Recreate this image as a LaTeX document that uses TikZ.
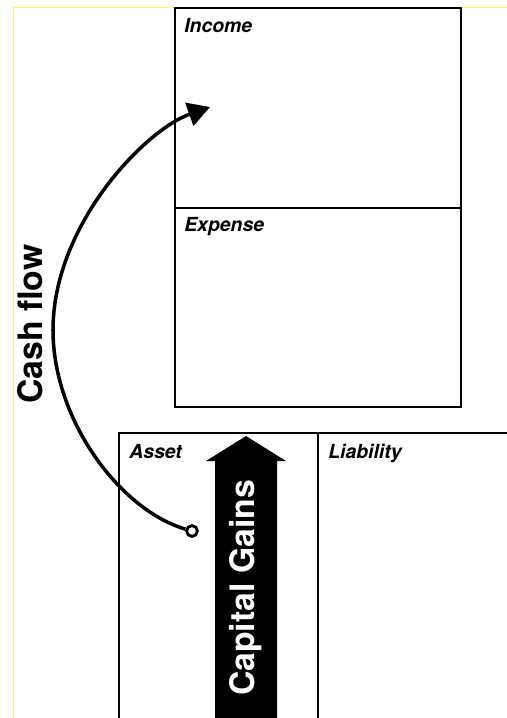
\documentclass[tikz,border=0pt]{standalone}
\usepackage{fontspec}
\setmainfont{TeX Gyre Heros}
\usetikzlibrary{arrows.meta}

\begin{document}
\begin{tikzpicture}[x=0.025cm, y=-0.025cm]

      \tikzset{panel/.style={draw, line width=1.8pt},
               tag/.style={anchor=base west, inner sep=0pt, font=\fontsize{13.8}{16}\selectfont\bfseries\itshape},
               big/.style={rotate=90, inner sep=0pt, font=\fontsize{24}{28}\selectfont\bfseries}}
      \useasboundingbox (0,0) rectangle (507,718);
%% Frame
      	\draw[yellow!60, line width=0.7pt] (13,718) -- (13,7) -- (507,7);
%% Panels
      	\draw[panel] (175,8) rectangle (461,208);
      	\draw[panel] (175,208) rectangle (461,407);
      	\draw[panel] (119,760) -- (119,433) -- (540,433);
      	\draw[panel] (318,433) -- (318,760);
      	\node[tag] (income) at (184,32) {Income};
      	\node[tag] (expense) at (184,231) {Expense};
      	\node[tag] (asset) at (129,458) {Asset};
      	\node[tag] (liability) at (328,458) {Liability};
%% Capital gains arrow
      	\fill (215,760) -- (215,461) -- (206,461) -- (246,436) -- (286,461) -- (277,461) -- (277,760) -- cycle;
      	\node[big, text=white] (gains) at (246,588) {Capital Gains};
%% Cash flow
      	\node[draw, circle, line width=2pt, fill=white, inner sep=0pt, minimum size=0.27cm] (cfstart) at (192,531) {};
      	\coordinate (cfend) at (210,107);
      	\draw[line width=2.5pt, -{Triangle[length=5.5mm, width=6mm]}] (cfstart) .. controls (120,510) and (53,420) .. (53,330)
      		.. controls (53,225) and (145,130) .. (cfend);
      	\node[big] (cashflow) at (30,324) {Cash flow};

	\end{tikzpicture}
\end{document}
